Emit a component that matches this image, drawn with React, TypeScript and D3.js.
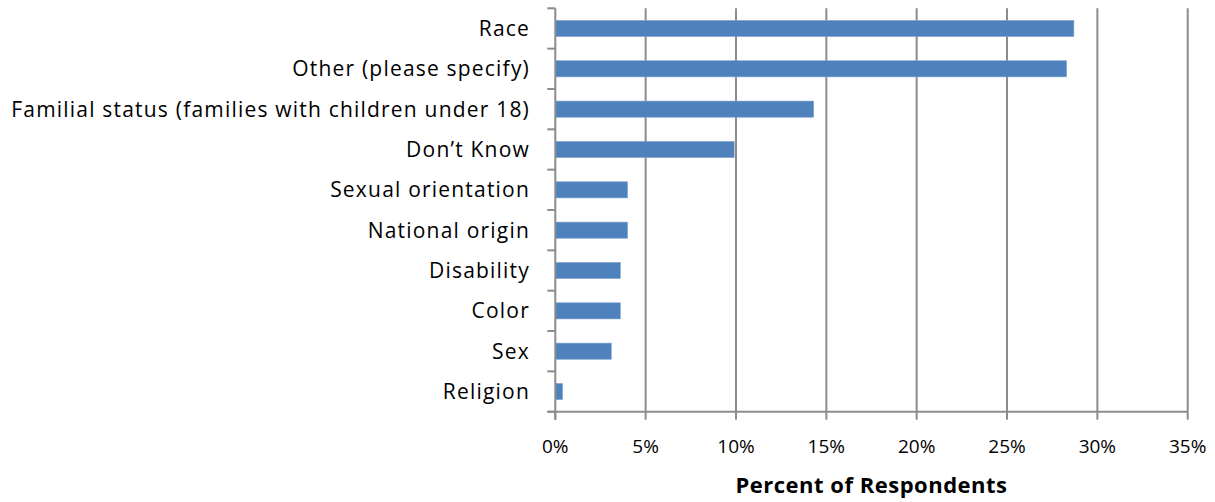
import React from "react";
import * as d3 from "d3";

// Reasons cited by respondents, top to bottom
const categories: string[] = [
  "Race",
  "Other (please specify)",
  "Familial status (families with children under 18)",
  "Don\u2019t Know",
  "Sexual orientation",
  "National origin",
  "Disability",
  "Color",
  "Sex",
  "Religion",
];

// Share of respondents, in percent
const values: number[] = [28.7, 28.3, 14.3, 9.9, 4.0, 4.0, 3.6, 3.6, 3.1, 0.4];

const xTicks: number[] = [0, 5, 10, 15, 20, 25, 30, 35];

const xTitle = "Percent of Respondents";

const W = 1215;
const H = 502;
const margin = { left: 555.3, right: W - 1187.7, top: 8.3, bottom: H - 411.7 };

const FONT = "'Open Sans', Lato, sans-serif";
const GRID = "#8c8c8c";
const BAR = "#4f81bd";

export default function App() {
  const x = d3
    .scaleLinear()
    .domain([0, 35])
    .range([margin.left, W - margin.right]);
  const y = d3
    .scaleBand<string>()
    .domain(categories)
    .range([margin.top, H - margin.bottom])
    .paddingInner(0.6)
    .paddingOuter(0.3);
  const band = d3
    .scaleBand<string>()
    .domain(categories)
    .range([margin.top, H - margin.bottom]);

  const y0 = margin.top;
  const y1 = H - margin.bottom;
  const x0 = x(0);

  return (
    <svg
      width={W}
      height={H}
      style={{ position: "absolute", left: 0, top: 0, background: "#fff" }}
      fontFamily={FONT}
    >
      {/* vertical gridlines */}
      {xTicks.slice(1).map((t) => (
        <line
          key={"g" + t}
          x1={x(t)}
          x2={x(t)}
          y1={y0}
          y2={y1}
          stroke={GRID}
          strokeWidth={2}
        />
      ))}

      {/* bars */}
      {categories.map((c, i) => (
        <rect
          key={c}
          x={x0}
          y={y(c)!}
          width={x(values[i]) - x0}
          height={y.bandwidth()}
          fill={BAR}
          stroke="#7fa3d1"
          strokeWidth={0.6}
        />
      ))}

      {/* category axis */}
      <line x1={x0} x2={x0} y1={y0} y2={y1 + 8} stroke={GRID} strokeWidth={2} />
      {[...categories.map((c) => band(c)!), y1].map((v, i) => (
        <line
          key={"yt" + i}
          x1={x0 - 8}
          x2={x0}
          y1={v}
          y2={v}
          stroke={GRID}
          strokeWidth={2}
        />
      ))}
      {categories.map((c) => (
        <text
          key={"l" + c}
          x={530}
          y={band(c)! + band.bandwidth() / 2}
          dy="0.35em"
          textAnchor="end"
          fontSize={21}
          letterSpacing={1.2}
          fill="#000"
        >
          {c}
        </text>
      ))}

      {/* value axis */}
      <line x1={x0 - 8} x2={x(35)} y1={y1} y2={y1} stroke={GRID} strokeWidth={2} />
      {xTicks.map((t) => (
        <g key={"xt" + t}>
          <line x1={x(t)} x2={x(t)} y1={y1} y2={y1 + 8} stroke={GRID} strokeWidth={2} />
          <text x={x(t)} y={453} textAnchor="middle" fontSize={19} fill="#000">
            {t + "%"}
          </text>
        </g>
      ))}
      <text
        x={(x(0) + x(35)) / 2}
        y={493}
        textAnchor="middle"
        fontSize={22}
        fontWeight="bold"
        letterSpacing={0.5}
        fill="#000"
      >
        {xTitle}
      </text>
    </svg>
  );
}
